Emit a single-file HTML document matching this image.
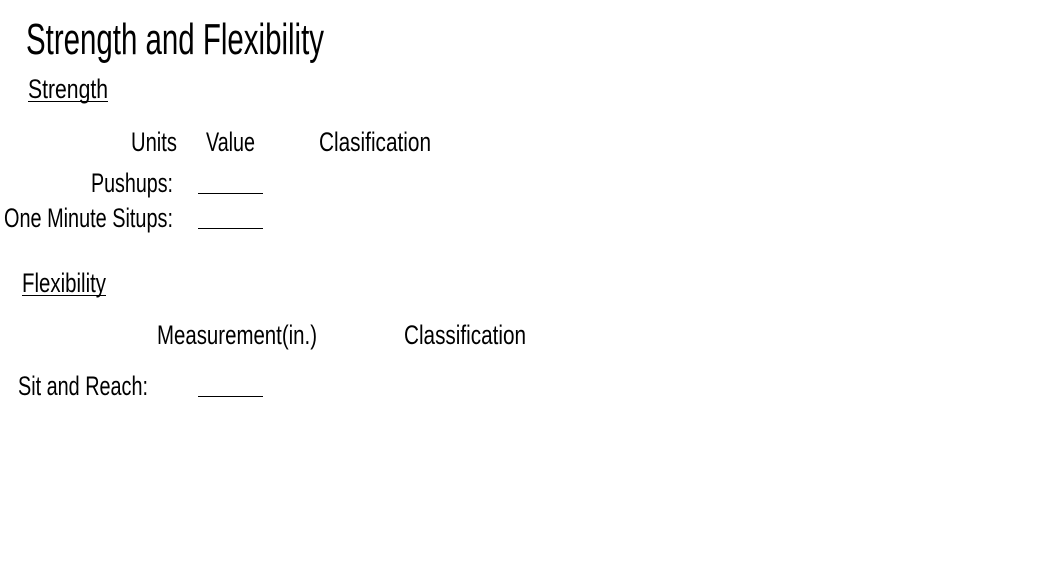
<!DOCTYPE html>
<html><head><meta charset="utf-8"><style>
html,body{margin:0;padding:0;background:#fff;width:1051px;height:588px;overflow:hidden}
svg text{font-family:"Liberation Sans",sans-serif;fill:#000}
</style></head><body>
<svg width="1051" height="588" xmlns="http://www.w3.org/2000/svg">
<text x="26" y="54" font-size="44" textLength="298" lengthAdjust="spacingAndGlyphs">Strength and Flexibility</text>
<text x="28" y="98" font-size="27" textLength="80" lengthAdjust="spacingAndGlyphs">Strength</text>
<line x1="28" y1="101.5" x2="108" y2="101.5" stroke="#000" stroke-width="1"/>
<text x="131" y="151" font-size="27" textLength="46" lengthAdjust="spacingAndGlyphs">Units</text>
<text x="206" y="151" font-size="27" textLength="49" lengthAdjust="spacingAndGlyphs">Value</text>
<text x="319" y="151" font-size="27" textLength="112" lengthAdjust="spacingAndGlyphs">Clasification</text>
<text x="91" y="192" font-size="27" textLength="82" lengthAdjust="spacingAndGlyphs">Pushups:</text>
<line x1="198" y1="193.5" x2="263" y2="193.5" stroke="#000" stroke-width="1"/>
<text x="4" y="227" font-size="27" textLength="169" lengthAdjust="spacingAndGlyphs">One Minute Situps:</text>
<line x1="198" y1="228.5" x2="263" y2="228.5" stroke="#000" stroke-width="1"/>
<text x="22" y="292" font-size="27" textLength="84" lengthAdjust="spacingAndGlyphs">Flexibility</text>
<line x1="22" y1="295.5" x2="106" y2="295.5" stroke="#000" stroke-width="1"/>
<text x="157" y="344" font-size="27" textLength="160" lengthAdjust="spacingAndGlyphs">Measurement(in.)</text>
<text x="404" y="344" font-size="27" textLength="122" lengthAdjust="spacingAndGlyphs">Classification</text>
<text x="18" y="395" font-size="27" textLength="130" lengthAdjust="spacingAndGlyphs">Sit and Reach:</text>
<line x1="198" y1="396.5" x2="263" y2="396.5" stroke="#000" stroke-width="1"/>
</svg>
</body></html>
